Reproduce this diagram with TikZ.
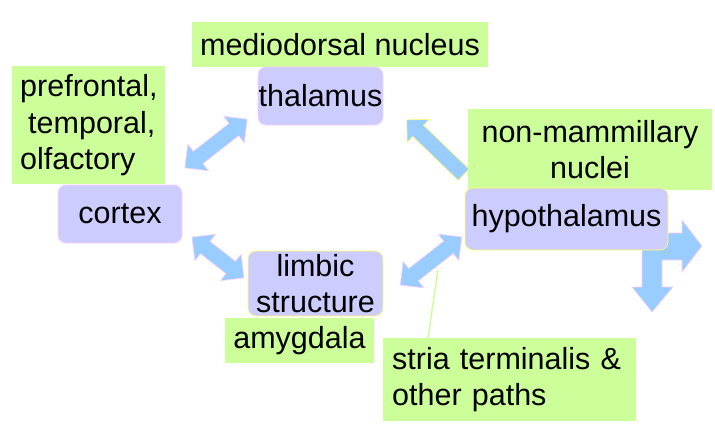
\documentclass[tikz,border=0pt]{standalone}
\usepackage{fontspec}
\setmainfont{Liberation Sans}
\usetikzlibrary{shapes.arrows}
\definecolor{labelgreen}{HTML}{CCFF99}
\definecolor{boxpurple}{HTML}{CCCCFF}
\definecolor{arrowblue}{HTML}{99CCFF}
\definecolor{edgepink}{HTML}{FFCCFF}
\definecolor{edgeyellow}{HTML}{FFFF66}
\begin{document}
\begin{tikzpicture}[x=1pt,y=-1pt,font=\fontsize{30.5}{36.5}\selectfont,
	label/.style={fill=labelgreen,inner sep=0pt},
	box/.style={fill=boxpurple,rounded corners=8pt,inner sep=0pt,line width=0.6pt},
	fat/.style={double arrow,fill=arrowblue,draw=edgepink,line width=0.6pt,inner sep=7.5pt,minimum width=33pt,double arrow head extend=9pt,double arrow head indent=0pt},
	onefat/.style={single arrow,fill=arrowblue,draw=edgeyellow,line width=0.6pt,inner sep=7.5pt,minimum width=31pt,single arrow head extend=8pt}]
	%\draw [help lines] (0,0) grid (715,426);
	\useasboundingbox (0,0) rectangle (715,426);
	% block arrows
	\node [onefat,minimum height=79pt,rotate=136] (up) at (438,150) {};
	\node [fat,minimum height=79pt,rotate=38] (ct) at (216,143.5) {};
	\node [fat,minimum height=66pt,rotate=-38] (cl) at (218,257.5) {};
	\node [fat,minimum height=78pt,rotate=38] (lh) at (431,261) {};
	\filldraw [fill=arrowblue,draw=edgepink,line width=0.6pt] (642,233) -- (682,233) -- (682,220) -- (702,246) -- (682,272) -- (682,260) -- (662,260) -- (662,287) -- (673,287) -- (652,312) -- (632,287) -- (642,287) -- cycle;
	% labels
	\node [label,minimum width=296pt,minimum height=45pt] (md) at (340,44.5) {mediodorsal nucleus};
	\node [label,anchor=north west,text width=137pt,inner xsep=8pt,minimum height=118pt,align=left] (pft) at (12,66) {prefrontal,\\\hspace*{8pt}temporal,\\olfactory};
	\node [label,minimum width=244pt,minimum height=81pt,align=center] (nm) at (590,149.5) {non-mammillary\\nuclei};
	\node [label,minimum width=149pt,minimum height=45pt] (amy) at (299.5,340.5) {amygdala};
	\node [label,anchor=north west,text width=235pt,inner xsep=9pt,minimum height=83pt,align=left] (stria) at (383,338) {stria terminalis \&\\other paths};
	% boxes
	\node [box,draw=edgepink,minimum width=125pt,minimum height=58pt] (thal) at (320.5,96) {thalamus};
	\node [box,draw=edgepink,minimum width=124pt,minimum height=58pt] (cortex) at (120,214) {cortex};
	\node [box,draw=edgeyellow,minimum width=203pt,minimum height=62pt] (hyp) at (566.5,219) {hypothalamus};
	\node [box,draw=edgeyellow,minimum width=135pt,minimum height=65pt,align=center] (limbic) at (315.5,283.5) {limbic\\structure};
	\coordinate (sttop) at (428,338);
	\coordinate (stend) at (438,270);
	\draw [labelgreen,line width=1.5pt] (sttop) -- (stend);
\end{tikzpicture}
\end{document}
